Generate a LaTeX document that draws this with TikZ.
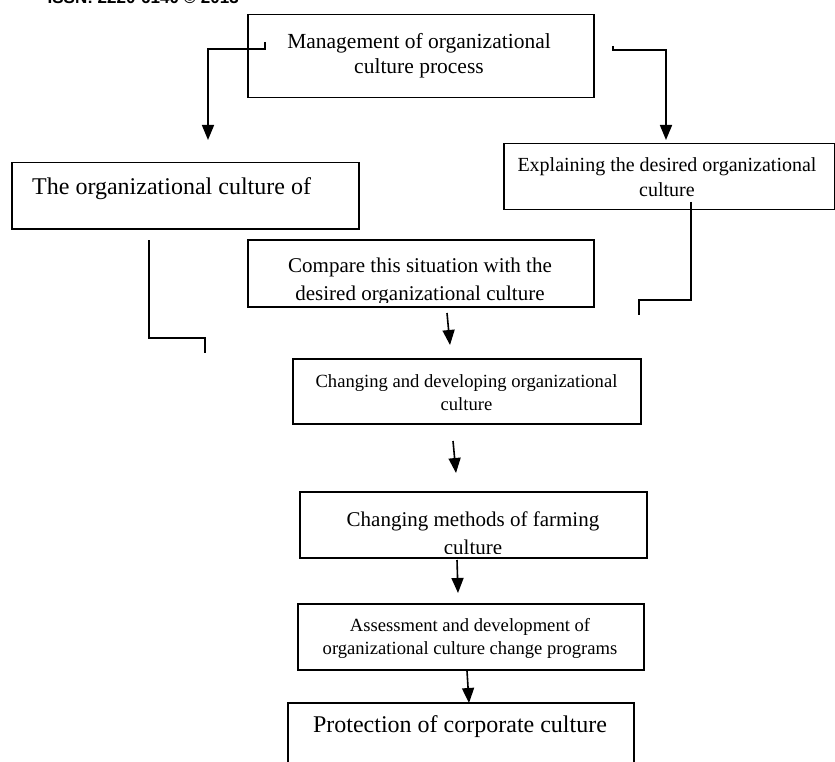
\documentclass[tikz,border=0pt]{standalone}
\usepackage{fontspec}
\setmainfont{Liberation Serif}
\newfontfamily\hdrfont{Liberation Sans}
\usetikzlibrary{arrows.meta}
\begin{document}
\begin{tikzpicture}[x=1pt,y=-1pt,
  box/.style={draw, line width=1.5pt, inner sep=0pt, anchor=north west},
  conn/.style={line width=1.6pt},
  arr/.style={line width=1.6pt, -{Triangle[length=15pt,width=12pt]}},
  lbl/.style={inner sep=0pt, align=center},
  fA/.style={font=\fontsize{21.5}{25}\selectfont},
  fB/.style={font=\fontsize{24}{28}\selectfont},
  fC/.style={font=\fontsize{20}{25}\selectfont},
  fD/.style={font=\fontsize{18.6}{23}\selectfont},
  fE/.style={font=\fontsize{21}{28}\selectfont}]
\clip (0,0) rectangle (835,762);
\fill[white] (0,0) rectangle (835,762);

% header (cut off at top)
\node[inner sep=0pt, anchor=base east, font=\hdrfont\bfseries\fontsize{17}{20}\selectfont] (hdr) at (239,4) {ISSN: 2220-6140 \textcopyright\ 2013};

% boxes
\node[box, minimum width=346pt, minimum height=83pt] (b1) at (247,14) {};
\node[box, minimum width=347pt, minimum height=66pt] (b2) at (11,162) {};
\node[box, minimum width=331pt, minimum height=66pt] (b3) at (503,143) {};
\begin{scope}
\clip (247,239) rectangle (593,302);
\node[lbl, fE] (t4) at (420,281) {Compare this situation with the\\desired organizational culture};
\end{scope}
\node[box, minimum width=346pt, minimum height=67pt] (b4) at (247,239) {};
\node[box, minimum width=348pt, minimum height=65pt] (b5) at (292,358) {};
\begin{scope}
\clip (299,491) rectangle (646,553);
\node[lbl, fE] (t6) at (473,533) {Changing methods of farming\\culture};
\end{scope}
\node[box, minimum width=347pt, minimum height=66pt] (b6) at (299,491) {};
\node[box, minimum width=346pt, minimum height=66pt] (b7) at (297,603) {};
\node[box, minimum width=346pt, minimum height=90pt] (b8) at (287,702) {};

% texts
\node[lbl, fA] (t1) at (419,56) {Management of organizational\\culture process};
\node[lbl, fB, anchor=west] (t2) at (32,189) {The organizational culture of};
\node[lbl, fC] (t3) at (667,177) {Explaining the desired organizational\\culture};
\node[lbl, fD] (t5) at (466.5,393) {Changing and developing organizational\\culture};
\node[lbl, fD] (t7) at (470,638) {Assessment and development of\\organizational culture change programs};
\node[lbl, fB] (t8) at (460,727) {Protection of corporate culture};

% connector end points
\coordinate (c1a) at (265,42);
\coordinate (c1b) at (208,140);
\coordinate (c2a) at (613,46);
\coordinate (c2b) at (666,140);
\coordinate (c3a) at (691,202);
\coordinate (c3b) at (639,315);
\coordinate (c4a) at (149,240);
\coordinate (c4b) at (205,353);
\coordinate (a5s) at (447,313);
\coordinate (a5e) at (450,345);
\coordinate (a6s) at (453,441);
\coordinate (a6e) at (456,473);
\coordinate (a7s) at (457,560);
\coordinate (a7e) at (458,593);
\coordinate (a8s) at (467,671);
\coordinate (a8e) at (469,703);

% connectors
\draw[arr] (c1a) |- (208,49) -- (c1b);
\draw[arr] (c2a) |- (666,50) -- (c2b);
\draw[conn] (c3a) |- (639,300) -- (c3b);
\draw[conn] (c4a) |- (205,338) -- (c4b);
\draw[arr] (a5s) -- (a5e);
\draw[arr] (a6s) -- (a6e);
\draw[arr] (a7s) -- (a7e);
\draw[arr] (a8s) -- (a8e);
\end{tikzpicture}
\end{document}
